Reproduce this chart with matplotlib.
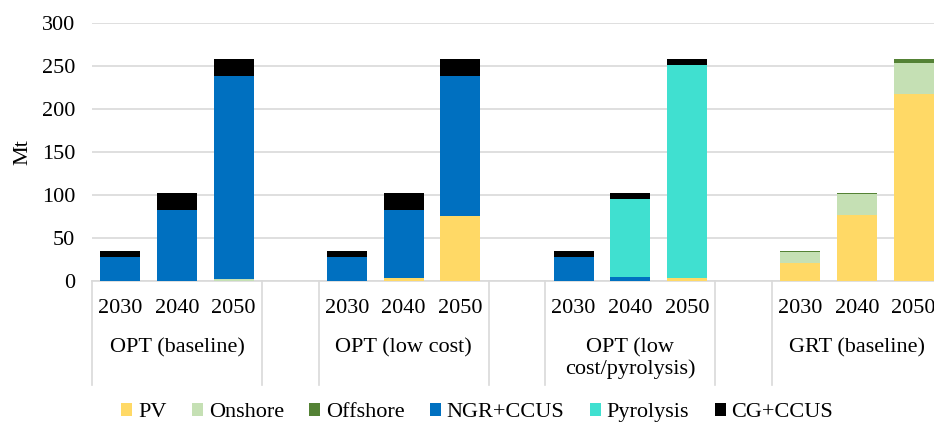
import matplotlib
matplotlib.use('Agg')
import matplotlib.pyplot as plt
from matplotlib.transforms import blended_transform_factory
import numpy as np

plt.rcParams['font.family'] = ['Liberation Serif', 'DejaVu Serif']

groups = ['OPT (baseline)', 'OPT (low cost)', 'OPT (low\ncost/pyrolysis)', 'GRT (baseline)']
years = ['2030', '2040', '2050']

series_names = ['PV', 'Onshore', 'Offshore', 'NGR+CCUS', 'Pyrolysis', 'CG+CCUS']
pv = [0, 0, 0, 0, 4, 76, 0, 0, 4, 21, 77, 217]
onshore = [0, 0, 2, 0, 0, 0, 0, 0, 0, 13, 24, 37]
offshore = [0, 0, 0, 0, 0, 0, 0, 0, 0, 1, 1.5, 4]
ngr_ccus = [28, 82, 236, 28, 78, 162, 28, 5, 0, 0, 0, 0]
pyrolysis = [0, 0, 0, 0, 0, 0, 0, 90, 247, 0, 0, 0]
cg_ccus = [7, 20, 20, 7, 20, 20, 7, 7, 7, 0, 0, 0]
colors = ['#FFD966', '#C5E0B4', '#548235', '#0070C0', '#40E0D0', '#000000']

fs = 16
fig = plt.figure(figsize=(9.34, 4.23), dpi=100)
ax = fig.add_axes([92 / 934, (423 - 281) / 423, 850 / 934, 258 / 423])

# one empty slot between scenario groups
x = np.array([4 * g + j for g in range(len(groups)) for j in range(len(years))])
bottom = np.zeros(len(x))
for name, vals, c in zip(series_names, [pv, onshore, offshore, ngr_ccus, pyrolysis, cg_ccus], colors):
    vals = np.array(vals, dtype=float)
    ax.bar(x, vals, 0.71, bottom=bottom, color=c, label=name, zorder=3)
    bottom += vals

ax.set_xlim(-0.5, 4 * len(groups) - 1.5)
ax.set_ylim(0, 300)
ax.set_yticks(range(0, 301, 50))
ax.tick_params(axis='y', length=0, pad=12, labelsize=fs)
ax.set_xticks([])
ax.grid(axis='y', color='#D9D9D9', linewidth=1.2, zorder=0)
for s in ['top', 'right', 'left']:
    ax.spines[s].set_visible(False)
ax.spines['bottom'].set_color('#D9D9D9')
ax.spines['bottom'].set_linewidth(1.2)
ax.set_ylabel('Mt', fontsize=fs, labelpad=7)

trans = blended_transform_factory(ax.transData, ax.transAxes)
for xi, yr in zip(x, years * len(groups)):
    ax.text(xi, -0.108, yr, transform=trans, ha='center', va='center', fontsize=fs)
for g, name in enumerate(groups):
    ax.text(4 * g + 1, -0.222, name, transform=trans, ha='center', va='top',
            fontsize=fs, linespacing=1.1)

# separator lines below the axis
seps = [-0.5]
for g in range(len(groups)):
    seps += [4 * g + 2.5, 4 * g + 3.5]
for s in seps:
    ax.plot([s, s], [0, -0.403], transform=trans, color='#D9D9D9', linewidth=1.2, clip_on=False)

fig.legend(loc='center', bbox_to_anchor=(0.511, 0.024), ncol=6, frameon=False, fontsize=fs,
           handlelength=0.5, handleheight=0.5, handletextpad=0.25, columnspacing=1.15,
           borderaxespad=0)

fig.savefig('out.png', dpi=100)
